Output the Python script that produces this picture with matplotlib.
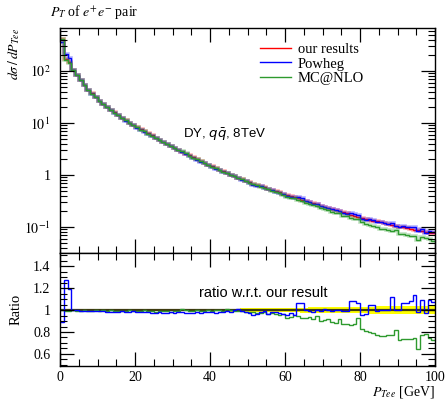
import numpy as np
import matplotlib
matplotlib.use("Agg")
import matplotlib.pyplot as plt
from matplotlib.ticker import FixedLocator, MultipleLocator, LogLocator, FuncFormatter, NullFormatter

plt.rcParams['font.family'] = ['Liberation Serif', 'DejaVu Serif']
plt.rcParams['mathtext.fontset'] = 'stix'

# ===========================
# Datos
# ===========================

bin_edges = np.arange(0, 101, 1)

# dsigma/dPT de "our results", un valor por bin de 1 GeV
ours = [410, 168, 147, 105, 85, 66, 53, 44, 37, 31.5,
        27, 23.5, 20.5, 18, 16, 14.2, 12.6, 11.3, 10.1, 9.1,
        8.3, 7.55, 6.9, 6.3, 5.75, 5.25, 4.8, 4.38, 4.0, 3.65,
        3.35, 3.07, 2.82, 2.59, 2.38, 2.19, 2.01, 1.85, 1.70, 1.57,
        1.46, 1.36, 1.26, 1.17, 1.09, 1.02, 0.95, 0.885, 0.825, 0.77,
        0.725, 0.685, 0.648, 0.613, 0.58, 0.548, 0.518, 0.49, 0.463, 0.438,
        0.415, 0.394, 0.373, 0.354, 0.335, 0.318, 0.301, 0.286, 0.271, 0.257,
        0.245, 0.233, 0.222, 0.211, 0.201, 0.191, 0.182, 0.173, 0.165, 0.157,
        0.151, 0.145, 0.139, 0.133, 0.128, 0.123, 0.118, 0.113, 0.109, 0.105,
        0.101, 0.098, 0.095, 0.092, 0.089, 0.086, 0.083, 0.080, 0.078, 0.075]

# Cociente Powheg / our results
ratio_powheg = [0.89, 1.27, 1.19, 1.0, 1.0, 0.995, 0.995, 0.99, 0.995, 0.99,
                0.99, 0.99, 0.985, 0.985, 0.98, 0.985, 0.99, 0.985, 0.985, 0.99,
                0.985, 0.98, 0.985, 0.98, 0.975, 0.975, 0.98, 0.97, 0.975, 0.98,
                0.975, 0.98, 0.985, 0.975, 0.97, 0.975, 0.98, 0.975, 0.98, 0.985,
                0.98, 0.975, 0.985, 0.98, 0.99, 0.98, 1.005, 1.01, 0.99, 0.985,
                0.975, 0.955, 0.96, 0.985, 0.99, 0.965, 0.985, 0.98, 0.975, 0.965,
                0.955, 0.975, 0.955, 1.065, 1.06, 1.0, 0.995, 0.985, 1.0, 0.99,
                1.01, 1.0, 0.99, 1.005, 1.0, 0.995, 0.99, 1.08, 1.085, 1.06,
                0.955, 0.96, 1.045, 1.045, 0.99, 1.0, 1.005, 1.0, 1.115, 1.0,
                1.0, 1.06, 1.06, 1.085, 1.135, 0.985, 1.09, 0.97, 1.09, 1.07]

# Cociente MC@NLO / our results
ratio_mcatnlo = [1.0, 0.99, 0.99, 1.0, 0.995, 0.995, 1.0, 0.995, 0.995, 1.0,
                 0.995, 1.0, 0.995, 1.0, 0.995, 0.99, 0.995, 0.99, 1.0, 0.995,
                 0.995, 0.99, 1.0, 0.995, 0.99, 0.985, 0.99, 0.995, 0.99, 0.985,
                 0.99, 0.995, 1.01, 1.005, 0.995, 0.99, 1.0, 0.995, 0.99, 1.0,
                 0.995, 1.005, 1.0, 0.99, 1.01, 1.0, 0.995, 0.99, 0.995, 0.985,
                 0.985, 0.98, 0.975, 0.97, 0.98, 0.965, 0.97, 0.96, 0.955, 0.96,
                 0.93, 0.935, 0.955, 0.945, 0.93, 0.925, 0.935, 0.915, 0.95, 0.9,
                 0.905, 0.92, 0.89, 0.88, 0.915, 0.87, 0.875, 0.86, 0.87, 0.925,
                 0.83, 0.805, 0.8, 0.79, 0.775, 0.76, 0.765, 0.775, 0.77, 0.82,
                 0.725, 0.74, 0.74, 0.735, 0.745, 0.645, 0.77, 0.785, 0.745, 0.73]

# Incertidumbre relativa de "our results" (banda amarilla)
rel_err = [0.006, 0.005, 0.005, 0.004, 0.004, 0.004, 0.004, 0.004, 0.004, 0.004,
           0.004, 0.004, 0.005, 0.005, 0.005, 0.005, 0.005, 0.005, 0.006, 0.006,
           0.006, 0.006, 0.006, 0.007, 0.007, 0.007, 0.007, 0.008, 0.008, 0.008,
           0.008, 0.009, 0.009, 0.009, 0.010, 0.010, 0.010, 0.011, 0.011, 0.011,
           0.012, 0.012, 0.012, 0.013, 0.013, 0.014, 0.014, 0.014, 0.015, 0.015,
           0.016, 0.016, 0.017, 0.017, 0.018, 0.018, 0.019, 0.019, 0.020, 0.020,
           0.021, 0.021, 0.022, 0.022, 0.023, 0.023, 0.024, 0.024, 0.025, 0.025,
           0.026, 0.026, 0.027, 0.027, 0.028, 0.028, 0.029, 0.029, 0.030, 0.030,
           0.031, 0.031, 0.032, 0.032, 0.033, 0.033, 0.034, 0.034, 0.035, 0.035,
           0.036, 0.036, 0.037, 0.037, 0.038, 0.038, 0.039, 0.039, 0.040, 0.040]

labels = ["our results", "Powheg", "MC@NLO"]
colors = ["#ff0000", "#0000ff", "#2e9a2e"]

ours = np.array(ours)
ratio_powheg = np.array(ratio_powheg)
ratio_mcatnlo = np.array(ratio_mcatnlo)
rel_err = np.array(rel_err)
powheg = ours * ratio_powheg
mcatnlo = ours * ratio_mcatnlo

# ===========================
# Figura
# ===========================

fig = plt.figure(figsize=(4.46, 4.0), dpi=100)
W, H = 446.0, 400.0
ax = fig.add_axes([60 / W, 1 - 253 / H, 375 / W, 225 / H])
rax = fig.add_axes([60 / W, 1 - 366 / H, 375 / W, 113 / H], sharex=ax)

# Panel principal
for vals, c, lab in zip([ours, powheg, mcatnlo], colors, labels):
    ax.stairs(vals, bin_edges, baseline=None, color=c, lw=2.6, alpha=0.3)
    ax.stairs(vals, bin_edges, baseline=None, color=c, lw=1.0, label=lab)

ax.set_yscale("log")
ax.set_xlim(0, 100)
ax.set_ylim(10 ** -1.5, 10 ** 2.827)

def log_fmt(v, pos):
    e = int(round(np.log10(v)))
    if e == 0:
        return "1"
    return r"$10^{%d}$" % e

ax.yaxis.set_major_locator(LogLocator(base=10, numticks=10))
ax.yaxis.set_minor_locator(LogLocator(base=10, subs=np.arange(2, 10), numticks=10))
ax.yaxis.set_major_formatter(FuncFormatter(log_fmt))
ax.yaxis.set_minor_formatter(NullFormatter())
ax.tick_params(axis="x", labelbottom=False)

ax.text(0.44, 0.525, r"DY, $q\bar{q}$, 8TeV", transform=ax.transAxes,
        ha="center", va="center", fontsize=9.5, family=["Liberation Sans", "DejaVu Sans"],
        math_fontfamily="dejavusans")

leg = ax.legend(loc="upper left", bbox_to_anchor=(0.533, 0.935), frameon=False,
                fontsize=10.5, handlelength=2.1, handletextpad=0.5,
                labelspacing=0.1, borderpad=0, borderaxespad=0)

ax.set_ylabel(r"$d\sigma\,/\,dP_{Tee}$", loc="top", fontsize=10)
fig.text(50 / W, 1 - 12 / H, r"$P_T$ of $e^{+}e^{-}$ pair", ha="left", va="center", fontsize=10)

# Panel de cocientes
rax.stairs(1 + rel_err, bin_edges, baseline=1 - rel_err, fill=True, color="#ffff00", lw=0)
rax.stairs(np.ones_like(ours), bin_edges, baseline=None, color="#3d3a10", lw=1.6)
rax.stairs(ratio_mcatnlo, bin_edges, baseline=None, color=colors[2], lw=1.0)
rax.stairs(ratio_powheg, bin_edges, baseline=None, color=colors[1], lw=1.0)

rax.set_ylim(0.49, 1.52)
rax.yaxis.set_major_locator(FixedLocator([0.6, 0.8, 1.0, 1.2, 1.4]))
rax.yaxis.set_major_formatter(FuncFormatter(lambda v, p: "1" if abs(v - 1) < 1e-6 else "%g" % v))
rax.yaxis.set_minor_locator(MultipleLocator(0.05))
rax.xaxis.set_major_locator(MultipleLocator(20))
rax.xaxis.set_minor_locator(MultipleLocator(5))

rax.text(0.541, 0.646, "ratio w.r.t. our result", transform=rax.transAxes,
         ha="center", va="center", fontsize=10.5, family=["Liberation Sans", "DejaVu Sans"])

rax.set_ylabel("Ratio", fontsize=10.5)
rax.set_xlabel(r"$P_{Tee}$ [GeV]", loc="right", fontsize=10, labelpad=0)

for a in (ax, rax):
    a.tick_params(which="both", direction="in", top=True, right=True, labelsize=10)
    a.tick_params(which="major", length=10, width=0.9)
    a.tick_params(which="minor", length=5, width=0.8)
    a.tick_params(axis="y", pad=7)
    for s in a.spines.values():
        s.set_linewidth(1.0)

# Alinear etiquetas del eje y
ax.yaxis.set_label_coords(-0.10, 1.0)
rax.yaxis.set_label_coords(-0.10, 0.5)

fig.savefig("out.png", dpi=100)
